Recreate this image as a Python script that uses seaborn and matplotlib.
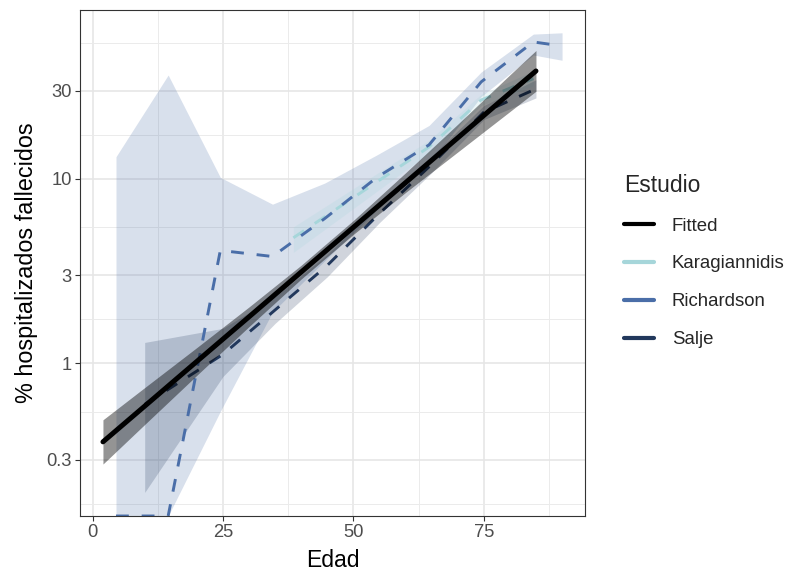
import numpy as np
import pandas as pd
import matplotlib
matplotlib.use("Agg")
import matplotlib.pyplot as plt
import seaborn as sns
from matplotlib.lines import Line2D
from matplotlib.ticker import FixedLocator, NullFormatter

sns.set_theme(style="whitegrid")
plt.rcParams["font.family"] = ["Liberation Sans", "DejaVu Sans"]

# ---------------- data ----------------
fit_age = [2, 10, 20, 30, 40, 50, 60, 70, 80, 85]
fit_val = [0.376, 0.587, 1.026, 1.79, 3.13, 5.47, 9.55, 16.7, 29.2, 38.5]
fit_lo = [0.285, 0.467, 0.863, 1.585, 2.87, 5.01, 8.45, 14.0, 23.2, 29.9]
fit_hi = [0.495, 0.74, 1.22, 2.025, 3.41, 5.96, 10.8, 19.8, 36.7, 49.7]

kar_age = [38.5, 64.5, 74.5, 84.5]
kar_val = [4.8, 14.9, 26.8, 35.0]
kar_lo = [4.0, 13.8, 25.0, 32.0]
kar_hi = [5.5, 16.2, 28.8, 38.5]

ric_age = [4.5, 14.5, 24.5, 34.5, 44.5, 54.5, 64.5, 74.5, 84.5, 90]
ric_val = [0, 0, 4.1, 3.8, 6.1, 10.2, 15.3, 33.6, 55.3, 52.6]
ric_lo = [0, 0, 0.55, 1.9, 3.6, 6.8, 12.0, 28.0, 47.0, 44.0]
ric_hi = [13.2, 36.6, 10.2, 7.3, 9.5, 13.5, 19.5, 38.0, 61.0, 62.0]

sal_age = [10, 25, 35, 45, 55, 65, 75, 85]
sal_val = [0.6, 1.12, 1.95, 3.4, 6.5, 12.0, 23.0, 30.8]
sal_lo = [0.2, 0.85, 1.65, 2.95, 5.8, 10.8, 21.0, 27.5]
sal_hi = [1.3, 1.55, 2.3, 3.9, 7.3, 13.3, 25.0, 34.5]

studies = ["Karagiannidis", "Richardson", "Salje"]
colors = {"Fitted": "#000000", "Karagiannidis": "#a6d6da",
          "Richardson": "#4a6ea8", "Salje": "#22385c"}

yticks = [0.3, 1, 3, 10, 30]
ytick_labels = ["0.3", "1", "3", "10", "30"]
xticks = [0, 25, 50, 75]

YMIN, YMAX = 0.149, 82.4

# long-form table for the study lines
df = pd.concat([
    pd.DataFrame({"Edad": kar_age, "valor": kar_val, "lo": kar_lo, "hi": kar_hi, "Estudio": "Karagiannidis"}),
    pd.DataFrame({"Edad": ric_age, "valor": ric_val, "lo": ric_lo, "hi": ric_hi, "Estudio": "Richardson"}),
    pd.DataFrame({"Edad": sal_age, "valor": sal_val, "lo": sal_lo, "hi": sal_hi, "Estudio": "Salje"}),
], ignore_index=True)
# like ggplot, log(0) = -Inf is drawn at the panel edge
for c in ["valor", "lo", "hi"]:
    df[c + "_p"] = np.where(df[c] > 0, df[c], YMIN)

fit = pd.DataFrame({"Edad": fit_age, "valor": fit_val, "lo": fit_lo, "hi": fit_hi})

# ---------------- figure ----------------
fig = plt.figure(figsize=(7.88, 5.72), dpi=100)
ax = fig.add_axes([80 / 788, 1 - 516 / 572, 505 / 788, 506 / 572])
ax.set_facecolor("white")
ax.set_yscale("log")

# ribbons
for z, s in zip([1.0, 1.1, 1.2], ["Richardson", "Salje", "Karagiannidis"]):
    d = df[df["Estudio"] == s]
    ax.fill_between(d["Edad"], d["lo_p"], d["hi_p"], color=colors[s],
                    alpha=0.21, lw=0, zorder=z)

sns.lineplot(data=df, x="Edad", y="valor_p", hue="Estudio", style="Estudio",
             palette={s: colors[s] for s in studies},
             dashes={s: (4.4, 4.4) for s in studies},
             linewidth=2.1, errorbar=None, legend=False, ax=ax, zorder=2)

ax.fill_between(fit["Edad"], fit["lo"], fit["hi"], color="black", alpha=0.42,
                lw=0, zorder=2.5)
sns.lineplot(data=fit, x="Edad", y="valor", color="black", linewidth=3.6,
             errorbar=None, ax=ax, zorder=3)

# scales
ax.set_xlim(-2.4, 94.4)
ax.set_ylim(YMIN, YMAX)
ax.xaxis.set_major_locator(FixedLocator(xticks))
ax.xaxis.set_minor_locator(FixedLocator([12.5, 37.5, 62.5, 87.5]))
ax.set_xticklabels([str(t) for t in xticks])
ax.yaxis.set_major_locator(FixedLocator(yticks))
ax.yaxis.set_minor_locator(FixedLocator([0.1732, 0.5477, 1.732, 5.477, 17.32, 54.77]))
ax.set_yticklabels(ytick_labels)
ax.yaxis.set_minor_formatter(NullFormatter())

ax.set_axisbelow(True)
ax.grid(which="major", color="#e6e6e6", linewidth=1.2)
ax.grid(which="minor", color="#ebebeb", linewidth=0.7)
for sp in ax.spines.values():
    sp.set_color("#333333")
    sp.set_linewidth(0.8)
    sp.set_zorder(5)
ax.tick_params(which="major", direction="out", length=3.6, width=0.8,
               color="#333333", labelcolor="#4d4d4d", labelsize=13.2, pad=2.5,
               bottom=True, left=True)
ax.tick_params(which="minor", length=0)

ax.set_xlabel("Edad", fontsize=16.5, color="black", labelpad=5.5)
ax.set_ylabel("% hospitalizados fallecidos", fontsize=16.8, color="black", labelpad=6)

# legend
handles = [Line2D([0], [0], color=colors[k], lw=3.0) for k in ["Fitted"] + studies]
leg = fig.legend(handles, ["Fitted"] + studies, title="Estudio",
                 loc="center left", bbox_to_anchor=(615 / 788, 1 - 261 / 572),
                 frameon=False, fontsize=13.4, title_fontsize=16.5,
                 handlelength=1.6, handletextpad=0.95, labelspacing=1.12,
                 borderpad=0, alignment="left")

fig.savefig("out.png", dpi=100, facecolor="white")
